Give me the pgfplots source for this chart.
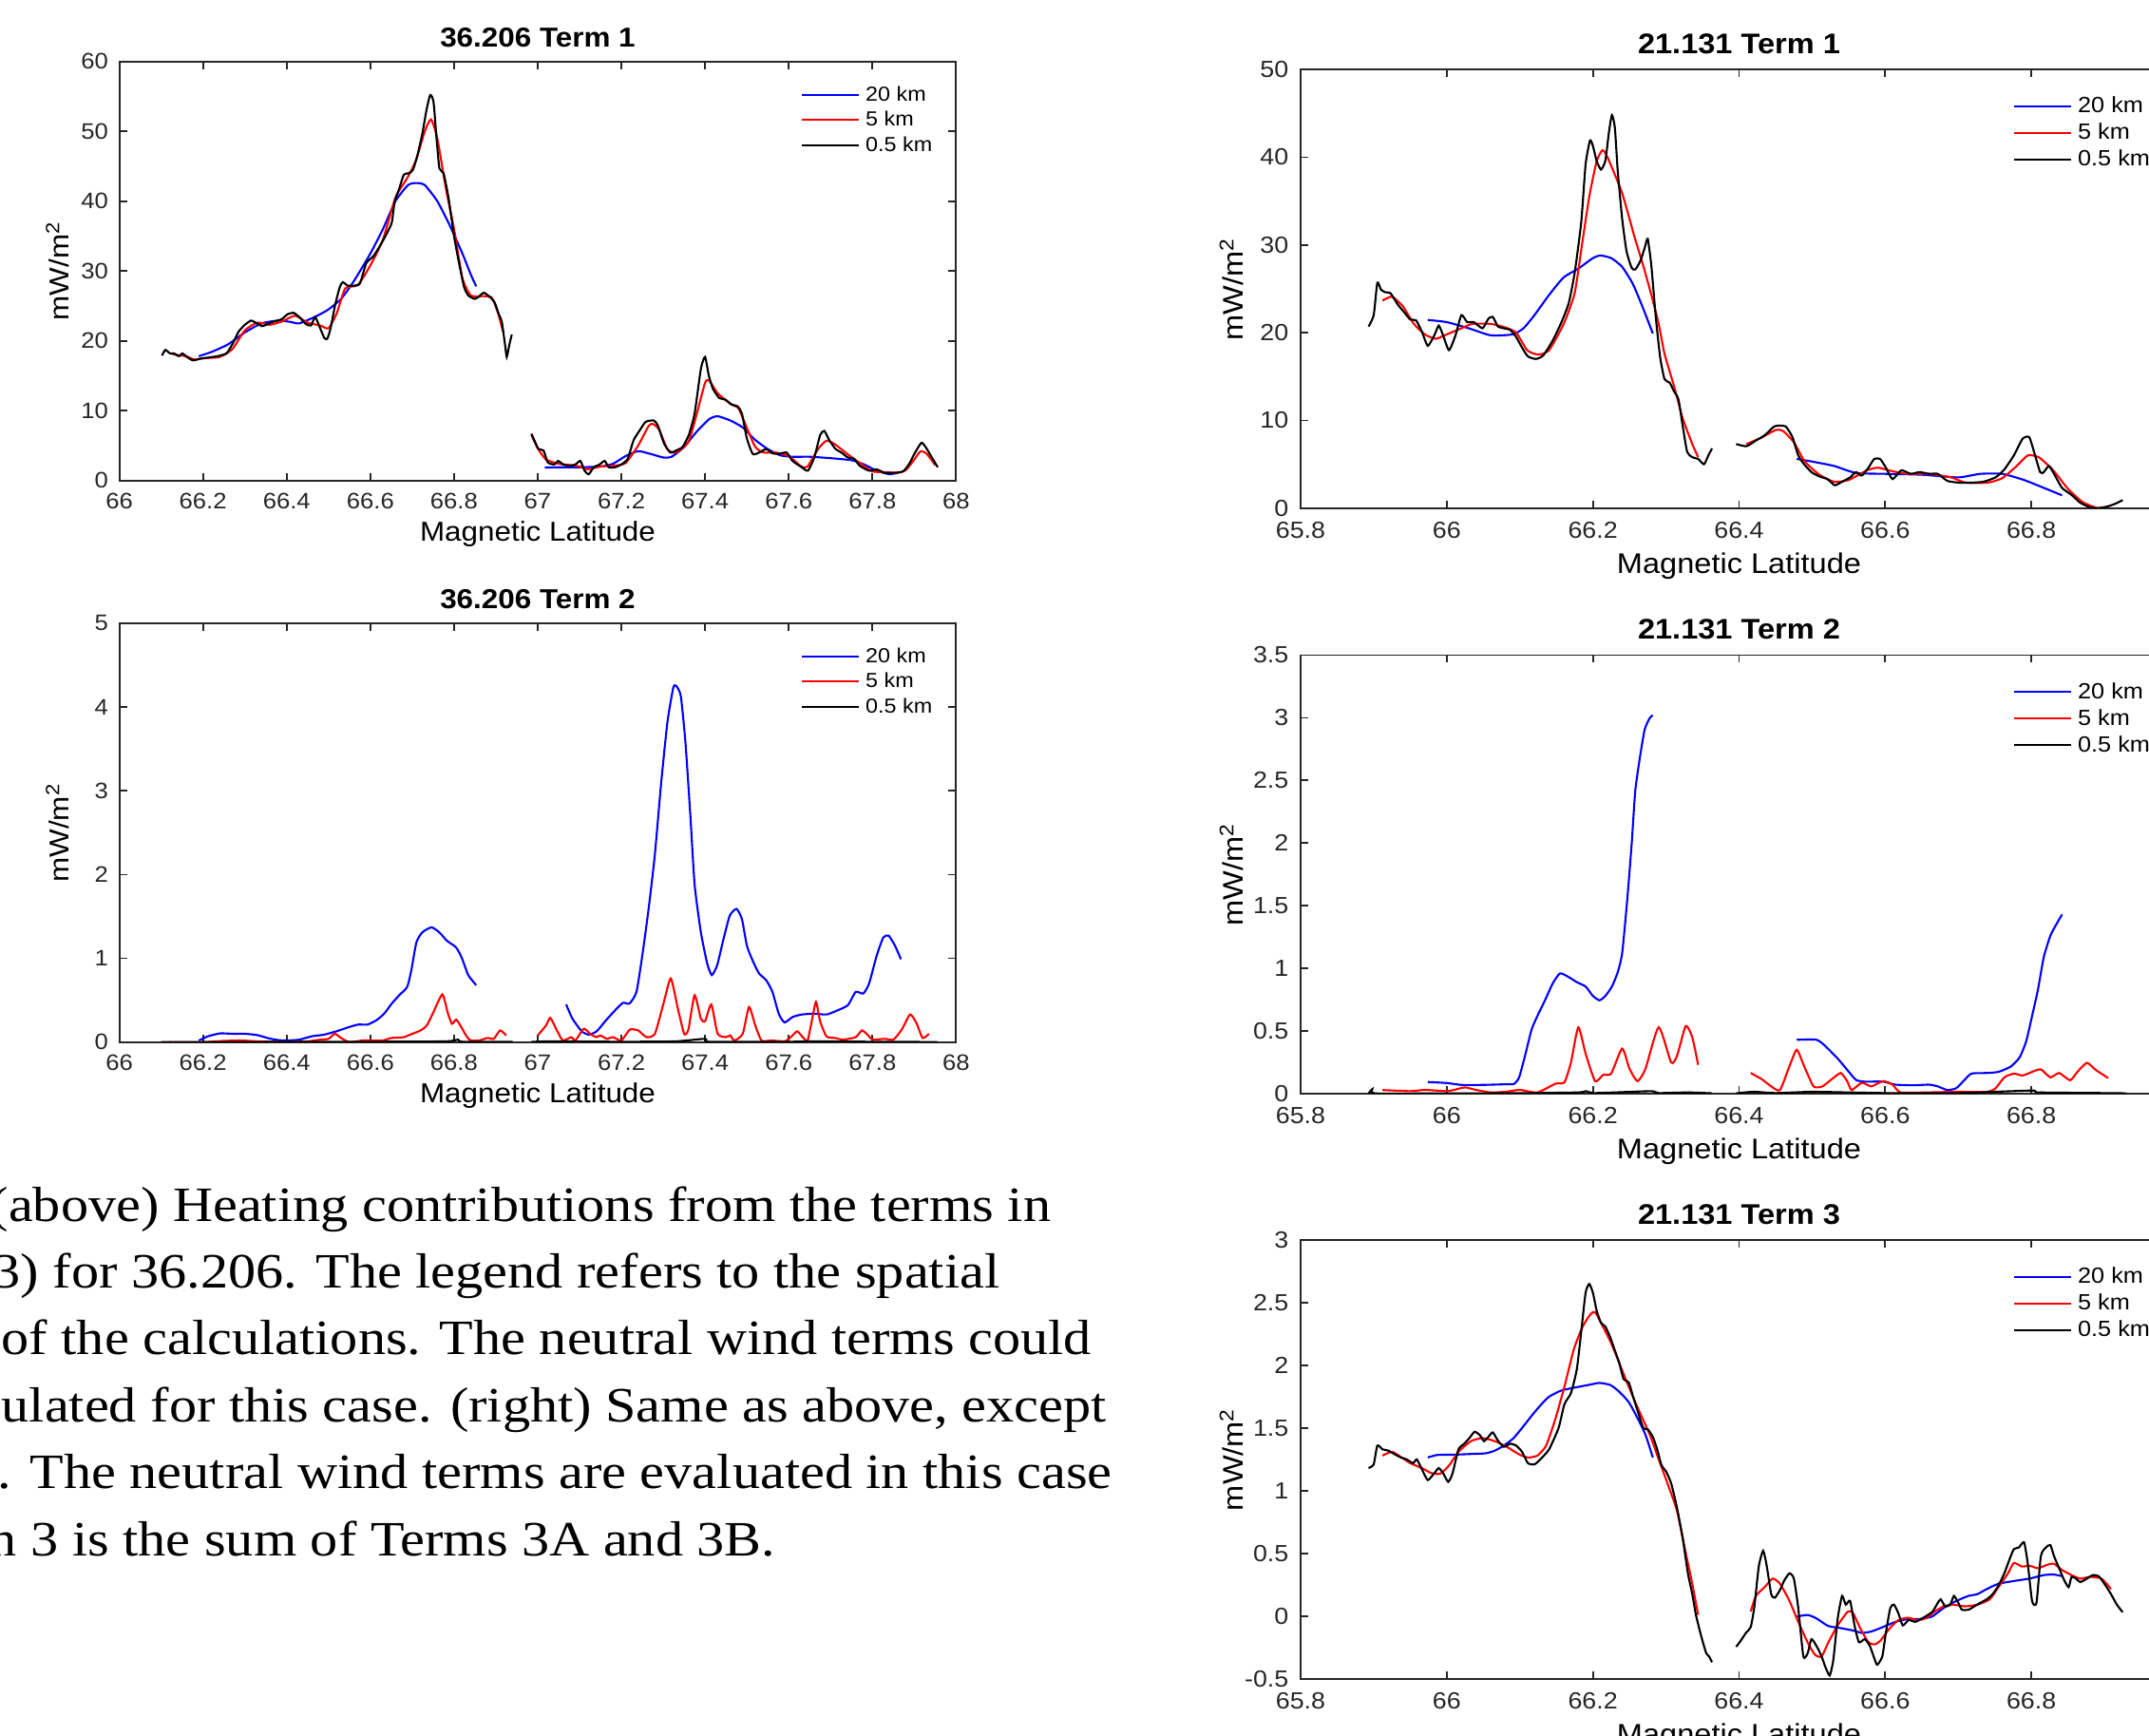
\documentclass[border=0pt]{standalone}
\usepackage{fontspec}
\setmainfont{Liberation Sans}[FakeStretch=1.09]
\newfontfamily\capfont{Liberation Serif}[FakeStretch=1.12]
\usepackage{pgfplots}
\pgfplotsset{compat=1.18}

\pgfplotsset{
  mpl/.style={
    scale only axis,
    axis line style={line width=0.55pt, draw=black!85},
    every tick/.style={line width=0.5pt, black!85},
    tick align=inside, major tick length=0.08cm,
    /pgf/number format/assume math mode=true,
    xticklabel style={anchor=center, text=black!85},
    yticklabel style={anchor=east, inner sep=0pt, text=black!85},
    xlabel={Magnetic Latitude}, ylabel={mW/m\textsuperscript{2}},
    every axis y label/.style={rotate=90, anchor=center},
    every axis x label/.style={at={(axis description cs:0.5,0)}, anchor=center},
    every axis title/.style={at={(axis description cs:0.5,1)}, anchor=center},
    legend cell align=left,
    legend image code/.code={\draw[##1] (0cm,0cm) -- (0.6cm,0cm);},
    legend style={draw=none, fill=none, inner sep=0pt, outer sep=0pt, anchor=north west},
    unbounded coords=jump,
    every axis plot/.append style={line width=0.6pt, mark=none, smooth, tension=0.35},
  },
  leftp/.style={mpl, width=8.808cm, height=4.41cm, xmin=66, xmax=68,
    xtick={66,66.2,66.4,66.6,66.8,67,67.2,67.4,67.6,67.8,68},
    tick label style={font=\fontsize{6.7}{7}\selectfont},
    xticklabel style={yshift=-0.22cm}, yticklabel style={xshift=-0.11cm},
    label style={font=\fontsize{8.2}{9}\selectfont},
    xlabel style={yshift=-0.56cm},
    ylabel style={at={(axis description cs:-0.074,0.5)}},
    title style={yshift=0.25cm, font=\bfseries\fontsize{8.2}{9}\selectfont},
    legend style={at={(axis description cs:0.8145,0.9467)}, font=\fontsize{6.1}{7}\selectfont,
      row sep=0.036cm, nodes={inner ysep=0pt, inner xsep=0.06cm, text height=0.18cm, text depth=0.05cm}},
  },
  rightp/.style={mpl, width=9.23cm, height=4.615cm, xmin=65.8, xmax=67,
    xtick={65.8,66,66.2,66.4,66.6,66.8,67},
    tick label style={font=\fontsize{7}{8}\selectfont},
    xticklabel style={yshift=-0.23cm}, yticklabel style={xshift=-0.12cm},
    label style={font=\fontsize{8.5}{9}\selectfont},
    xlabel style={yshift=-0.61cm},
    ylabel style={at={(axis description cs:-0.079,0.5)}},
    title style={yshift=0.272cm, font=\bfseries\fontsize{8.5}{9}\selectfont},
    legend style={at={(axis description cs:0.8126,0.942)}, font=\fontsize{6.6}{7}\selectfont,
      row sep=0.04cm, nodes={inner ysep=0pt, inner xsep=0.06cm, text height=0.19cm, text depth=0.05cm}},
  },
}

\begin{document}
\begin{tikzpicture}
\useasboundingbox (0,0) rectangle (22.62,18.26);
\clip (0,0) rectangle (22.62,18.26);

% ---------- 36.206 Term 1 ----------
\begin{axis}[leftp, at={(1.256cm,13.203cm)}, anchor=south west,
  ymin=0, ymax=60, ytick={0,10,...,60}, title={36.206 Term 1}]
\addplot[blue] coordinates {(66.19,17.8) (66.22,18.4) (66.26,19.5) (66.30,21.2) (66.34,22.5) (66.38,22.9) (66.41,22.7) (66.43,22.5) (66.47,23.5) (66.50,24.5) (66.53,26.0) (66.56,28.5) (66.60,32.5) (66.63,36) (66.66,40) (66.69,42.3) (66.71,42.6) (66.73,42.3) (66.76,40.0) (66.79,36.5) (66.82,32.5) (66.84,29.5) (66.853,27.8) (66.95,nan) (67.017,1.85) (67.05,1.9) (67.10,1.9) (67.15,2.0) (67.18,2.4) (67.21,3.5) (67.24,4.2) (67.27,3.8) (67.30,3.3) (67.32,3.4) (67.35,4.8) (67.38,7.0) (67.41,8.8) (67.43,9.2) (67.46,8.6) (67.49,7.6) (67.52,5.8) (67.55,4.5) (67.58,3.6) (67.61,3.4) (67.65,3.4) (67.70,3.2) (67.75,2.9) (67.78,2.3) (67.81,1.4) (67.84,0.9) (67.86,1.1)};
\addplot[red] coordinates {(66.127,18.1) (66.145,17.9) (66.16,17.8) (66.18,17.3) (66.20,17.5) (66.24,17.7) (66.27,18.8) (66.30,21.5) (66.33,22.6) (66.36,22.3) (66.39,22.8) (66.42,23.6) (66.45,22.6) (66.48,22.2) (66.50,21.8) (66.52,24.0) (66.54,27.5) (66.57,28.0) (66.60,30.8) (66.63,34.5) (66.66,40.5) (66.69,43.5) (66.71,46) (66.73,50) (66.745,51.7) (66.76,49) (66.78,42) (66.80,36) (66.82,29) (66.84,26.5) (66.87,26.4) (66.89,26.2) (66.905,24) (66.917,21.3) (66.95,nan) (66.985,6.5) (67.00,4.6) (67.02,3.0) (67.05,2.4) (67.08,2.2) (67.10,2.0) (67.12,1.6) (67.15,2.0) (67.18,2.1) (67.21,2.5) (67.24,5.0) (67.265,7.8) (67.275,8.1) (67.29,7.3) (67.31,4.5) (67.33,4.0) (67.36,5.5) (67.38,9.5) (67.40,14.0) (67.41,14.3) (67.43,12.5) (67.46,11.0) (67.48,10.3) (67.50,7.5) (67.52,4.8) (67.54,4.0) (67.57,4.0) (67.60,3.5) (67.63,2.0) (67.645,2.0) (67.67,4.5) (67.69,5.7) (67.71,5.2) (67.74,3.8) (67.77,2.5) (67.80,1.3) (67.83,1.2) (67.86,1.1) (67.88,1.5) (67.90,3.0) (67.915,4.2) (67.93,3.8) (67.95,2.2)};
\addplot[black] coordinates {(66.102,17.9) (66.110,18.7) (66.121,18.2) (66.131,18.2) (66.142,17.8) (66.151,18.2) (66.161,17.7) (66.176,17.2) (66.190,17.4) (66.212,17.6) (66.234,17.8) (66.256,18.2) (66.271,19.6) (66.285,21.3) (66.300,22.3) (66.315,22.9) (66.326,22.6) (66.341,22.1) (66.351,22.3) (66.366,22.7) (66.388,23.1) (66.402,23.8) (66.417,24.0) (66.432,23.3) (66.446,22.4) (66.458,22.2) (66.468,23.4) (66.478,22.1) (66.490,20.4) (66.497,20.3) (66.505,21.8) (66.516,25.2) (66.527,27.7) (66.534,28.4) (66.546,27.9) (66.560,27.9) (66.575,28.2) (66.590,31.1) (66.607,32.1) (66.622,33.5) (66.636,35.0) (66.651,36.9) (66.658,39.9) (66.669,41.8) (66.680,43.8) (66.692,44.0) (66.702,44.5) (66.713,46.7) (66.724,49.6) (66.734,53.0) (66.743,55.2) (66.751,54.2) (66.758,49.1) (66.765,44.7) (66.775,44.0) (66.787,40.4) (66.800,35.0) (66.812,31.1) (66.824,27.7) (66.834,26.5) (66.849,26.0) (66.859,26.3) (66.871,26.9) (66.885,26.3) (66.897,25.5) (66.907,23.8) (66.914,22.8) (66.922,19.4) (66.926,17.7) (66.932,19.4) (66.938,20.9) (66.96,nan) (66.985,6.7) (66.992,5.75) (67.002,4.5) (67.014,4.3) (67.024,2.6) (67.039,2.3) (67.049,2.8) (67.061,2.3) (67.075,2.1) (67.090,2.3) (67.102,2.8) (67.112,1.4) (67.122,0.9) (67.134,1.9) (67.148,2.3) (67.160,2.8) (67.170,1.9) (67.185,1.9) (67.200,2.3) (67.215,3.1) (67.229,5.75) (67.244,7.2) (67.258,8.4) (67.277,8.6) (67.287,7.9) (67.302,5.3) (67.317,4.0) (67.331,4.3) (67.346,4.8) (67.361,6.5) (67.375,9.6) (67.390,16.0) (67.400,17.7) (67.409,15.0) (67.419,13.1) (67.434,11.8) (67.448,11.6) (67.463,10.9) (67.478,10.6) (67.488,9.6) (67.500,6.0) (67.514,3.8) (67.529,4.0) (67.546,4.5) (67.561,3.9) (67.576,3.8) (67.595,4.0) (67.609,2.8) (67.631,1.9) (67.646,1.4) (67.661,3.3) (67.675,6.5) (67.685,7.1) (67.697,5.75) (67.712,4.5) (67.726,4.0) (67.741,3.3) (67.756,3.1) (67.770,2.1) (67.792,1.4) (67.810,1.6) (67.829,1.1) (67.851,1.1) (67.873,1.3) (67.887,2.3) (67.902,4.0) (67.917,5.4) (67.927,4.8) (67.939,3.6) (67.956,1.9)};
\legend{20 km, 5 km, 0.5 km}
\end{axis}

% ---------- 36.206 Term 2 ----------
\begin{axis}[leftp, at={(1.256cm,7.292cm)}, anchor=south west,
  ymin=0, ymax=5, ytick={0,1,...,5}, title={36.206 Term 2}]
\addplot[blue] coordinates {(66.19,0.02) (66.212,0.07) (66.241,0.105) (66.27,0.10) (66.30,0.10) (66.329,0.085) (66.358,0.045) (66.38,0.025) (66.40,0.02) (66.43,0.03) (66.46,0.07) (66.49,0.09) (66.519,0.13) (66.549,0.18) (66.571,0.21) (66.593,0.21) (66.614,0.26) (66.633,0.34) (66.651,0.46) (66.669,0.56) (66.688,0.66) (66.698,0.86) (66.71,1.19) (66.724,1.31) (66.746,1.37) (66.765,1.31) (66.783,1.21) (66.805,1.13) (66.819,1.0) (66.834,0.80) (66.853,0.68) (66.95,nan) (67.068,0.45) (67.083,0.28) (67.105,0.13) (67.122,0.09) (67.141,0.13) (67.163,0.26) (67.185,0.38) (67.204,0.47) (67.219,0.46) (67.236,0.60) (67.251,1.07) (67.266,1.63) (67.28,2.24) (67.295,3.09) (67.31,3.82) (67.324,4.23) (67.331,4.25) (67.342,4.13) (67.353,3.58) (67.365,2.69) (67.375,1.88) (67.390,1.31) (67.405,0.94) (67.416,0.80) (67.429,0.92) (67.444,1.23) (67.459,1.51) (67.475,1.59) (67.488,1.47) (67.50,1.15) (67.514,0.97) (67.529,0.82) (67.546,0.74) (67.561,0.60) (67.576,0.34) (67.59,0.235) (67.609,0.30) (67.631,0.33) (67.661,0.34) (67.69,0.33) (67.712,0.37) (67.741,0.44) (67.76,0.60) (67.778,0.58) (67.792,0.70) (67.81,1.03) (67.826,1.25) (67.839,1.27) (67.854,1.15) (67.868,0.99)};
\addplot[red] coordinates {(66.12,0.0) (66.20,0.0) (66.25,0.015) (66.29,0.02) (66.33,0.01) (66.40,0.0) (66.45,0.01) (66.48,0.03) (66.50,0.04) (66.515,0.10) (66.53,0.05) (66.55,0.0) (66.58,0.02) (66.60,0.02) (66.63,0.02) (66.65,0.05) (66.68,0.06) (66.70,0.10) (66.72,0.14) (66.735,0.20) (66.75,0.35) (66.772,0.57) (66.785,0.35) (66.795,0.22) (66.805,0.27) (66.815,0.20) (66.83,0.07) (66.84,0.02) (66.86,0.02) (66.88,0.05) (66.895,0.04) (66.91,0.14) (66.925,0.08) (66.96,nan) (67.00,0.08) (67.02,0.20) (67.03,0.29) (67.045,0.15) (67.06,0.02) (67.08,0.06) (67.09,0.02) (67.11,0.16) (67.125,0.10) (67.14,0.06) (67.15,0.08) (67.165,0.04) (67.18,0.06) (67.20,0.02) (67.22,0.15) (67.24,0.14) (67.26,0.06) (67.28,0.10) (67.30,0.45) (67.318,0.76) (67.335,0.40) (67.35,0.10) (67.36,0.15) (67.375,0.56) (67.39,0.28) (67.40,0.25) (67.415,0.45) (67.43,0.10) (67.45,0.06) (67.46,0.08) (67.47,0.02) (67.49,0.10) (67.505,0.42) (67.52,0.20) (67.535,0.02) (67.56,0.02) (67.59,0.01) (67.605,0.06) (67.62,0.13) (67.635,0.05) (67.645,0.02) (67.655,0.25) (67.665,0.48) (67.675,0.25) (67.69,0.07) (67.71,0.05) (67.73,0.03) (67.76,0.06) (67.775,0.14) (67.79,0.08) (67.80,0.03) (67.83,0.04) (67.85,0.03) (67.87,0.15) (67.89,0.33) (67.905,0.23) (67.92,0.05) (67.935,0.10)};
\addplot[black] coordinates {(66.10,0.002) (66.4,0.003) (66.6,0.005) (66.78,0.01) (66.81,0.03) (66.82,0.005) (66.94,0.003) (66.96,nan) (66.985,0.003) (67.03,0.01) (67.2,0.005) (67.33,0.01) (67.40,0.04) (67.41,0.005) (67.6,0.005) (67.66,0.01) (67.8,0.005) (67.955,0.002)};
\legend{20 km, 5 km, 0.5 km}
\end{axis}

% ---------- 21.131 Term 1 ----------
\begin{axis}[rightp, at={(13.69cm,12.913cm)}, anchor=south west,
  ymin=0, ymax=50, ytick={0,10,...,50}, title={21.131 Term 1}]
\addplot[blue] coordinates {(65.974,21.45) (66.0,21.2) (66.03,20.5) (66.06,19.7) (66.09,19.8) (66.105,20.5) (66.12,22.0) (66.14,24.3) (66.16,26.3) (66.18,27.3) (66.20,28.5) (66.21,28.8) (66.225,28.5) (66.24,27.5) (66.255,25.5) (66.27,22.5) (66.282,19.9) (66.38,nan) (66.479,5.6) (66.50,5.3) (66.53,4.8) (66.56,4.0) (66.60,3.9) (66.65,3.8) (66.70,3.5) (66.73,3.9) (66.76,3.9) (66.79,3.2) (66.82,2.2) (66.842,1.45)};
\addplot[red] coordinates {(65.912,23.65) (65.925,24.1) (65.94,23.0) (65.955,21.0) (65.97,19.8) (65.985,19.3) (66.0,19.8) (66.02,20.5) (66.035,21.0) (66.06,21.0) (66.08,20.6) (66.095,20.0) (66.11,18.0) (66.125,17.5) (66.14,18.0) (66.16,21.0) (66.175,24.5) (66.185,30) (66.195,35.5) (66.205,39.5) (66.213,40.8) (66.22,40.0) (66.24,35.9) (66.257,30.9) (66.269,27.6) (66.28,24.3) (66.29,21.0) (66.298,17.6) (66.311,13.9) (66.323,10.2) (66.336,7.3) (66.344,5.8) (66.38,nan) (66.41,7.3) (66.43,8.0) (66.45,8.9) (66.46,8.8) (66.475,7.5) (66.49,5.3) (66.51,3.8) (66.53,3.0) (66.55,3.2) (66.575,4.3) (66.59,4.6) (66.61,4.2) (66.63,3.9) (66.66,3.9) (66.69,3.5) (66.71,2.9) (66.74,2.9) (66.76,3.4) (66.78,4.8) (66.795,6.0) (66.81,5.8) (66.83,4.3) (66.85,2.2) (66.87,0.7) (66.89,0.0) (66.90,0.1)};
\addplot[black] coordinates {(65.893,20.7) (65.900,22.0) (65.905,25.7) (65.910,24.9) (65.916,24.6) (65.923,24.5) (65.933,23.2) (65.941,22.4) (65.950,21.5) (65.958,21.4) (65.966,20.1) (65.974,18.5) (65.983,19.7) (65.989,20.8) (65.995,19.7) (66.003,18.0) (66.012,19.7) (66.020,22.0) (66.028,21.2) (66.037,21.2) (66.049,20.5) (66.057,21.6) (66.063,21.8) (66.070,20.7) (66.078,20.5) (66.087,20.3) (66.095,19.5) (66.103,18.3) (66.111,17.3) (66.122,17.0) (66.132,17.4) (66.145,19.1) (66.157,21.2) (66.167,23.4) (66.175,26.8) (66.184,32.6) (66.19,39.2) (66.196,41.9) (66.200,41.3) (66.205,39.6) (66.211,38.6) (66.217,39.6) (66.222,42.9) (66.226,44.8) (66.230,43.4) (66.234,38.4) (66.240,33.0) (66.246,29.3) (66.253,27.4) (66.258,27.2) (66.265,28.2) (66.271,29.7) (66.275,30.7) (66.280,27.6) (66.286,21.8) (66.292,17.2) (66.298,14.7) (66.305,14.3) (66.311,13.3) (66.317,12.4) (66.323,9.3) (66.329,6.4) (66.336,5.8) (66.344,5.6) (66.352,5.0) (66.358,6.0) (66.363,6.8) (66.38,nan) (66.396,7.3) (66.410,7.05) (66.423,7.7) (66.435,8.3) (66.448,9.3) (66.456,9.4) (66.464,9.3) (66.473,8.1) (66.481,6.0) (66.489,5.0) (66.499,4.1) (66.510,3.6) (66.521,3.3) (66.531,2.6) (66.541,3.0) (66.552,3.5) (66.560,4.1) (66.568,3.7) (66.577,4.6) (66.585,5.6) (66.593,5.6) (66.601,4.6) (66.610,3.3) (66.622,4.3) (66.635,3.9) (66.647,4.1) (66.660,3.9) (66.672,3.9) (66.685,3.1) (66.701,2.9) (66.718,2.9) (66.734,3.0) (66.751,3.5) (66.763,4.4) (66.776,6.0) (66.788,7.9) (66.797,8.1) (66.803,6.6) (66.812,4.1) (66.817,4.1) (66.824,4.8) (66.831,3.9) (66.842,2.3) (66.855,1.5) (66.867,0.6) (66.880,0.1) (66.892,0.0) (66.905,0.2) (66.915,0.5) (66.925,0.9)};
\legend{20 km, 5 km, 0.5 km}
\end{axis}

% ---------- 21.131 Term 2 ----------
\begin{axis}[rightp, at={(13.69cm,6.75cm)}, anchor=south west,
  ymin=0, ymax=3.5, ytick={0,0.5,...,3.5}, title={21.131 Term 2}]
\addplot[blue] coordinates {(65.974,0.093) (66.0,0.085) (66.02,0.07) (66.05,0.07) (66.08,0.075) (66.092,0.078) (66.099,0.13) (66.107,0.30) (66.116,0.51) (66.124,0.62) (66.134,0.74) (66.145,0.88) (66.155,0.96) (66.167,0.93) (66.178,0.89) (66.190,0.855) (66.200,0.78) (66.209,0.745) (66.217,0.78) (66.226,0.855) (66.234,0.97) (66.24,1.12) (66.247,1.55) (66.253,1.99) (66.258,2.42) (66.265,2.71) (66.271,2.91) (66.278,3.0) (66.282,3.02) (66.38,nan) (66.479,0.43) (66.506,0.43) (66.518,0.38) (66.535,0.28) (66.548,0.19) (66.56,0.11) (66.572,0.096) (66.597,0.096) (66.614,0.072) (66.639,0.067) (66.66,0.072) (66.672,0.058) (66.685,0.029) (66.697,0.043) (66.707,0.10) (66.718,0.16) (66.739,0.165) (66.755,0.174) (66.772,0.217) (66.784,0.29) (66.793,0.42) (66.801,0.62) (66.809,0.83) (66.817,1.09) (66.826,1.26) (66.834,1.35) (66.842,1.43)};
\addplot[red] coordinates {(65.912,0.029) (65.95,0.02) (65.97,0.03) (66.0,0.02) (66.01,0.03) (66.025,0.05) (66.04,0.03) (66.06,0.01) (66.08,0.015) (66.10,0.03) (66.124,0.01) (66.149,0.08) (66.161,0.09) (66.170,0.25) (66.180,0.53) (66.19,0.32) (66.203,0.10) (66.214,0.15) (66.225,0.16) (66.240,0.36) (66.25,0.2) (66.261,0.10) (66.272,0.2) (66.29,0.53) (66.307,0.25) (66.315,0.3) (66.327,0.54) (66.336,0.45) (66.344,0.23) (66.38,nan) (66.416,0.165) (66.431,0.116) (66.444,0.058) (66.456,0.029) (66.469,0.22) (66.479,0.35) (66.489,0.22) (66.502,0.058) (66.514,0.058) (66.527,0.116) (66.539,0.165) (66.548,0.10) (66.554,0.029) (66.568,0.087) (66.581,0.058) (66.597,0.10) (66.61,0.072) (66.621,0.01) (66.656,0.01) (66.697,0.015) (66.739,0.015) (66.751,0.043) (66.763,0.13) (66.776,0.16) (66.788,0.145) (66.801,0.174) (66.813,0.194) (66.826,0.13) (66.838,0.165) (66.853,0.107) (66.863,0.174) (66.876,0.246) (66.888,0.19) (66.905,0.125)};
\addplot[black] coordinates {(65.893,0.002) (65.898,0.035) (65.903,0.002) (66.0,0.003) (66.1,0.004) (66.18,0.01) (66.19,0.02) (66.2,0.005) (66.23,0.01) (66.28,0.02) (66.29,0.005) (66.33,0.01) (66.363,0.003) (66.38,nan) (66.396,0.003) (66.42,0.015) (66.45,0.005) (66.50,0.015) (66.55,0.01) (66.60,0.005) (66.70,0.005) (66.80,0.025) (66.81,0.01) (66.90,0.005) (66.93,0.003)};
\legend{20 km, 5 km, 0.5 km}
\end{axis}

% ---------- 21.131 Term 3 ----------
\begin{axis}[rightp, at={(13.69cm,0.594cm)}, anchor=south west,
  ymin=-0.5, ymax=3, ytick={-0.5,0,...,3}, title={21.131 Term 3}]
\addplot[blue] coordinates {(65.974,1.265) (65.987,1.285) (66.008,1.287) (66.033,1.293) (66.053,1.298) (66.066,1.32) (66.078,1.36) (66.091,1.417) (66.103,1.50) (66.116,1.597) (66.128,1.68) (66.14,1.75) (66.157,1.80) (66.178,1.826) (66.195,1.845) (66.209,1.86) (66.224,1.843) (66.236,1.79) (66.249,1.707) (66.261,1.58) (66.272,1.445) (66.282,1.265) (66.38,nan) (66.479,-0.005) (66.494,0.008) (66.506,-0.02) (66.522,-0.08) (66.539,-0.097) (66.556,-0.116) (66.568,-0.135) (66.581,-0.124) (66.597,-0.088) (66.614,-0.047) (66.631,-0.025) (66.647,-0.025) (66.664,-0.005) (66.680,0.064) (66.697,0.119) (66.714,0.16) (66.726,0.174) (66.739,0.215) (66.755,0.257) (66.776,0.279) (66.797,0.298) (66.817,0.326) (66.830,0.331) (66.842,0.318)};
\addplot[red] coordinates {(65.912,1.28) (65.925,1.31) (65.937,1.27) (65.95,1.22) (65.966,1.18) (65.979,1.14) (65.991,1.135) (66.003,1.20) (66.016,1.31) (66.033,1.395) (66.049,1.42) (66.066,1.395) (66.082,1.35) (66.099,1.29) (66.111,1.265) (66.124,1.28) (66.136,1.36) (66.149,1.58) (66.161,1.83) (66.174,2.13) (66.186,2.31) (66.197,2.41) (66.203,2.425) (66.211,2.34) (66.224,2.19) (66.236,2.02) (66.249,1.83) (66.261,1.665) (66.278,1.445) (66.29,1.25) (66.302,1.06) (66.315,0.84) (66.327,0.505) (66.336,0.257) (66.344,0.008) (66.38,nan) (66.416,0.036) (66.423,0.16) (66.435,0.23) (66.446,0.298) (66.456,0.257) (66.469,0.12) (66.481,-0.047) (66.494,-0.213) (66.504,-0.31) (66.513,-0.323) (66.522,-0.213) (66.535,-0.075) (66.549,0.036) (66.556,0.022) (66.566,-0.1) (66.577,-0.21) (66.585,-0.227) (66.593,-0.2) (66.606,-0.1) (66.618,-0.033) (66.631,-0.014) (66.643,-0.033) (66.655,-0.02) (66.668,0.036) (66.680,0.077) (66.693,0.09) (66.709,0.077) (66.726,0.09) (66.743,0.133) (66.755,0.23) (66.768,0.34) (66.776,0.423) (66.787,0.395) (66.798,0.40) (66.809,0.381) (66.822,0.409) (66.831,0.417) (66.842,0.367) (66.855,0.326) (66.867,0.298) (66.880,0.312) (66.896,0.298) (66.909,0.215)};
\addplot[black] coordinates {(65.893,1.18) (65.9,1.21) (65.905,1.36) (65.912,1.33) (65.920,1.32) (65.929,1.29) (65.937,1.265) (65.945,1.25) (65.954,1.22) (65.959,1.25) (65.966,1.17) (65.974,1.085) (65.983,1.14) (65.989,1.18) (65.995,1.14) (66.002,1.07) (66.008,1.14) (66.016,1.33) (66.024,1.375) (66.031,1.42) (66.038,1.47) (66.045,1.445) (66.051,1.395) (66.057,1.43) (66.063,1.465) (66.070,1.40) (66.078,1.35) (66.087,1.375) (66.095,1.36) (66.103,1.31) (66.111,1.22) (66.12,1.21) (66.128,1.25) (66.140,1.33) (66.153,1.50) (66.161,1.69) (66.170,1.78) (66.178,1.97) (66.184,2.27) (66.190,2.58) (66.195,2.65) (66.200,2.58) (66.205,2.44) (66.211,2.34) (66.217,2.31) (66.224,2.22) (66.230,2.12) (66.236,2.02) (66.242,1.89) (66.249,1.865) (66.255,1.75) (66.261,1.64) (66.269,1.50) (66.275,1.49) (66.282,1.43) (66.288,1.33) (66.294,1.20) (66.300,1.155) (66.307,1.06) (66.315,0.865) (66.323,0.616) (66.330,0.34) (66.336,0.174) (66.341,0.008) (66.348,-0.157) (66.355,-0.296) (66.359,-0.323) (66.363,-0.37) (66.38,nan) (66.396,-0.246) (66.402,-0.2) (66.41,-0.13) (66.416,-0.088) (66.421,0.077) (66.427,0.395) (66.433,0.52) (66.438,0.395) (66.444,0.174) (66.449,0.146) (66.456,0.207) (66.462,0.285) (66.469,0.34) (66.475,0.298) (66.481,0.064) (66.488,-0.323) (66.494,-0.296) (66.499,-0.185) (66.506,-0.24) (66.513,-0.323) (66.518,-0.406) (66.524,-0.475) (66.529,-0.35) (66.535,-0.02) (66.541,0.16) (66.546,0.09) (66.552,0.12) (66.558,-0.075) (66.564,-0.21) (66.572,-0.185) (66.579,-0.24) (66.585,-0.337) (66.589,-0.39) (66.596,-0.323) (66.601,-0.13) (66.607,0.064) (66.612,0.09) (66.618,0.022) (66.624,-0.075) (66.632,-0.033) (66.641,-0.047) (66.649,-0.025) (66.657,0.003) (66.665,0.036) (66.672,0.105) (66.676,0.133) (66.682,0.077) (66.689,0.09) (66.694,0.16) (66.70,0.105) (66.705,0.05) (66.714,0.05) (66.722,0.077) (66.73,0.105) (66.739,0.133) (66.747,0.174) (66.755,0.243) (66.763,0.34) (66.770,0.45) (66.776,0.533) (66.783,0.547) (66.790,0.588) (66.795,0.423) (66.801,0.119) (66.807,0.105) (66.813,0.478) (66.82,0.547) (66.826,0.566) (66.831,0.478) (66.838,0.381) (66.845,0.285) (66.851,0.23) (66.855,0.312) (66.861,0.298) (66.867,0.271) (66.876,0.298) (66.884,0.326) (66.892,0.318) (66.90,0.257) (66.909,0.174) (66.917,0.09) (66.925,0.03)};
\legend{20 km, 5 km, 0.5 km}
\end{axis}

% ---------- caption fragment ----------
\begin{scope}[every node/.style={anchor=base west, inner sep=0pt, font=\capfont\fontsize{14.8}{17}\selectfont}]
\node at (-0.11,5.41) {(above) Heating contributions from the terms in};
\node at (-0.08,4.706) {3) for 36.206. The legend refers to the spatial};
\node at (0.01,4.002) {of the calculations. The neutral wind terms could};
\node at (0.01,3.298) {ulated for this case. (right) Same as above, except};
\node at (-0.03,2.594) {. The neutral wind terms are evaluated in this case};
\node at (-0.12,1.89) {n 3 is the sum of Terms 3A and 3B.};
\end{scope}
\end{tikzpicture}
\end{document}
